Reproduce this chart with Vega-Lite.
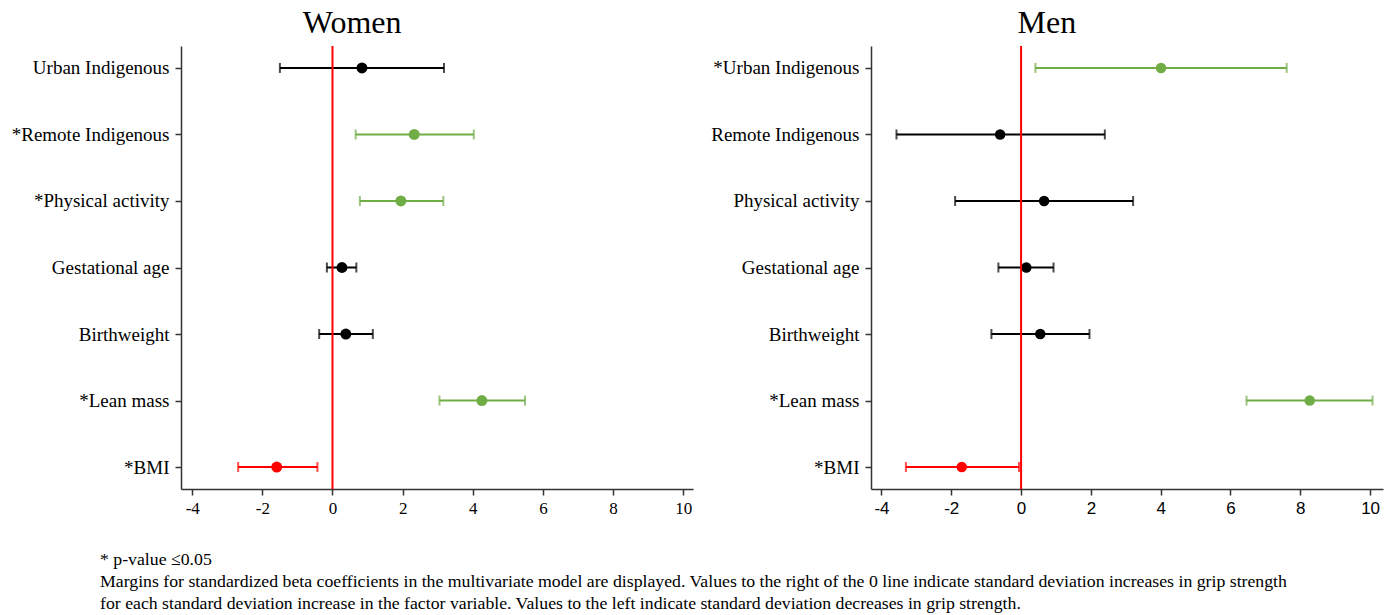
{
  "$schema": "https://vega.github.io/schema/vega-lite/v6.json",
  "background": "white",
  "padding": {"left": 11, "right": 5, "top": 7, "bottom": 5},
  "config": {
    "view": {"stroke": null},
    "font": "Liberation Serif",
    "axis": {"grid": false, "title": null, "domainColor": "#333333", "domainWidth": 1.5, "tickColor": "#333333", "tickWidth": 1.5, "tickSize": 6, "labelColor": "#000000"}
  },
  "datasets": {
    "forest": [
      {"sex": "Women", "label": "Urban Indigenous", "est": 0.84, "lo": -1.50, "hi": 3.18, "sig": "ns"},
      {"sex": "Women", "label": "*Remote Indigenous", "est": 2.33, "lo": 0.66, "hi": 4.03, "sig": "pos"},
      {"sex": "Women", "label": "*Physical activity", "est": 1.95, "lo": 0.78, "hi": 3.16, "sig": "pos"},
      {"sex": "Women", "label": "Gestational age", "est": 0.27, "lo": -0.16, "hi": 0.68, "sig": "ns"},
      {"sex": "Women", "label": "Birthweight", "est": 0.38, "lo": -0.38, "hi": 1.15, "sig": "ns"},
      {"sex": "Women", "label": "*Lean mass", "est": 4.26, "lo": 3.05, "hi": 5.49, "sig": "pos"},
      {"sex": "Women", "label": "*BMI", "est": -1.59, "lo": -2.69, "hi": -0.43, "sig": "neg"},
      {"sex": "Men", "label": "*Urban Indigenous", "est": 4.01, "lo": 0.41, "hi": 7.61, "sig": "pos"},
      {"sex": "Men", "label": "Remote Indigenous", "est": -0.60, "lo": -3.57, "hi": 2.40, "sig": "ns"},
      {"sex": "Men", "label": "Physical activity", "est": 0.66, "lo": -1.89, "hi": 3.21, "sig": "ns"},
      {"sex": "Men", "label": "Gestational age", "est": 0.15, "lo": -0.65, "hi": 0.93, "sig": "ns"},
      {"sex": "Men", "label": "Birthweight", "est": 0.55, "lo": -0.85, "hi": 1.96, "sig": "ns"},
      {"sex": "Men", "label": "*Lean mass", "est": 8.27, "lo": 6.46, "hi": 10.07, "sig": "pos"},
      {"sex": "Men", "label": "*BMI", "est": -1.70, "lo": -3.30, "hi": -0.06, "sig": "neg"}
    ]
  },
  "title": {
    "text": ["* p-value ≤0.05", "Margins for standardized beta coefficients in the multivariate model are displayed. Values to the right of the 0 line indicate standard deviation increases in grip strength", "for each standard deviation increase in the factor variable. Values to the left indicate standard deviation decreases in grip strength."],
    "orient": "bottom",
    "anchor": "start",
    "frame": "group",
    "font": "Liberation Serif",
    "fontSize": 17.75,
    "fontWeight": "normal",
    "color": "#000000",
    "lineHeight": 22,
    "offset": 35,
    "dx": -81
  },
  "spacing": 17,
  "hconcat": [
    {
      "width": 512,
      "height": 443,
      "title": {"text": "Women", "font": "Liberation Serif", "fontSize": 32, "fontWeight": "normal", "color": "#000000", "offset": 5, "frame": "bounds", "anchor": "middle"},
      "layer": [
        {
          "data": {"name": "forest"},
          "transform": [{"filter": "datum.sex === 'Women'"}],
          "encoding": {
            "y": {"field": "label", "type": "nominal", "sort": ["Urban Indigenous", "*Remote Indigenous", "*Physical activity", "Gestational age", "Birthweight", "*Lean mass", "*BMI"], "scale": {"type": "point", "padding": 0.33}, "axis": {"labelFontSize": 19, "labelFont": "Liberation Serif", "labelPadding": 6}},
            "color": {"field": "sig", "type": "nominal", "scale": {"domain": ["pos", "neg", "ns"], "range": ["#70AD47", "#FF0000", "#000000"]}, "legend": null}
          },
          "layer": [
            {"mark": {"type": "rule", "strokeWidth": 2}, "encoding": {"x": {"field": "lo", "type": "quantitative", "scale": {"domain": [-4.32, 10.28], "nice": false, "zero": false}, "axis": {"values": [-4, -2, 0, 2, 4, 6, 8, 10], "labelExpr": "toString(datum.value)", "labelFontSize": 17, "labelFont": "Liberation Serif", "labelPadding": 5}}, "x2": {"field": "hi"}}},
            {"mark": {"type": "tick", "size": 10, "thickness": 2, "orient": "vertical"}, "encoding": {"x": {"field": "lo", "type": "quantitative"}}},
            {"mark": {"type": "tick", "size": 10, "thickness": 2, "orient": "vertical"}, "encoding": {"x": {"field": "hi", "type": "quantitative"}}},
            {"mark": {"type": "circle", "size": 120, "opacity": 1}, "encoding": {"x": {"field": "est", "type": "quantitative"}}}
          ]
        },
        {
          "data": {"values": [{}]},
          "mark": {"type": "rule", "color": "#FF0000", "strokeWidth": 2},
          "encoding": {"x": {"datum": 0}}
        }
      ]
    },
    {
      "width": 512,
      "height": 443,
      "title": {"text": "Men", "font": "Liberation Serif", "fontSize": 32, "fontWeight": "normal", "color": "#000000", "offset": 5, "frame": "bounds", "anchor": "middle"},
      "layer": [
        {
          "data": {"name": "forest"},
          "transform": [{"filter": "datum.sex === 'Men'"}],
          "encoding": {
            "y": {"field": "label", "type": "nominal", "sort": ["*Urban Indigenous", "Remote Indigenous", "Physical activity", "Gestational age", "Birthweight", "*Lean mass", "*BMI"], "scale": {"type": "point", "padding": 0.33}, "axis": {"labelFontSize": 19, "labelFont": "Liberation Serif", "labelPadding": 6}},
            "color": {"field": "sig", "type": "nominal", "scale": {"domain": ["pos", "neg", "ns"], "range": ["#70AD47", "#FF0000", "#000000"]}, "legend": null}
          },
          "layer": [
            {"mark": {"type": "rule", "strokeWidth": 2}, "encoding": {"x": {"field": "lo", "type": "quantitative", "scale": {"domain": [-4.3, 10.37], "nice": false, "zero": false}, "axis": {"values": [-4, -2, 0, 2, 4, 6, 8, 10], "labelExpr": "toString(datum.value)", "labelFontSize": 17, "labelFont": "Liberation Sans", "labelPadding": 5}}, "x2": {"field": "hi"}}},
            {"mark": {"type": "tick", "size": 10, "thickness": 2, "orient": "vertical"}, "encoding": {"x": {"field": "lo", "type": "quantitative"}}},
            {"mark": {"type": "tick", "size": 10, "thickness": 2, "orient": "vertical"}, "encoding": {"x": {"field": "hi", "type": "quantitative"}}},
            {"mark": {"type": "circle", "size": 110, "opacity": 1}, "encoding": {"x": {"field": "est", "type": "quantitative"}}}
          ]
        },
        {
          "data": {"values": [{}]},
          "mark": {"type": "rule", "color": "#FF0000", "strokeWidth": 2},
          "encoding": {"x": {"datum": 0}}
        }
      ]
    }
  ]
}
